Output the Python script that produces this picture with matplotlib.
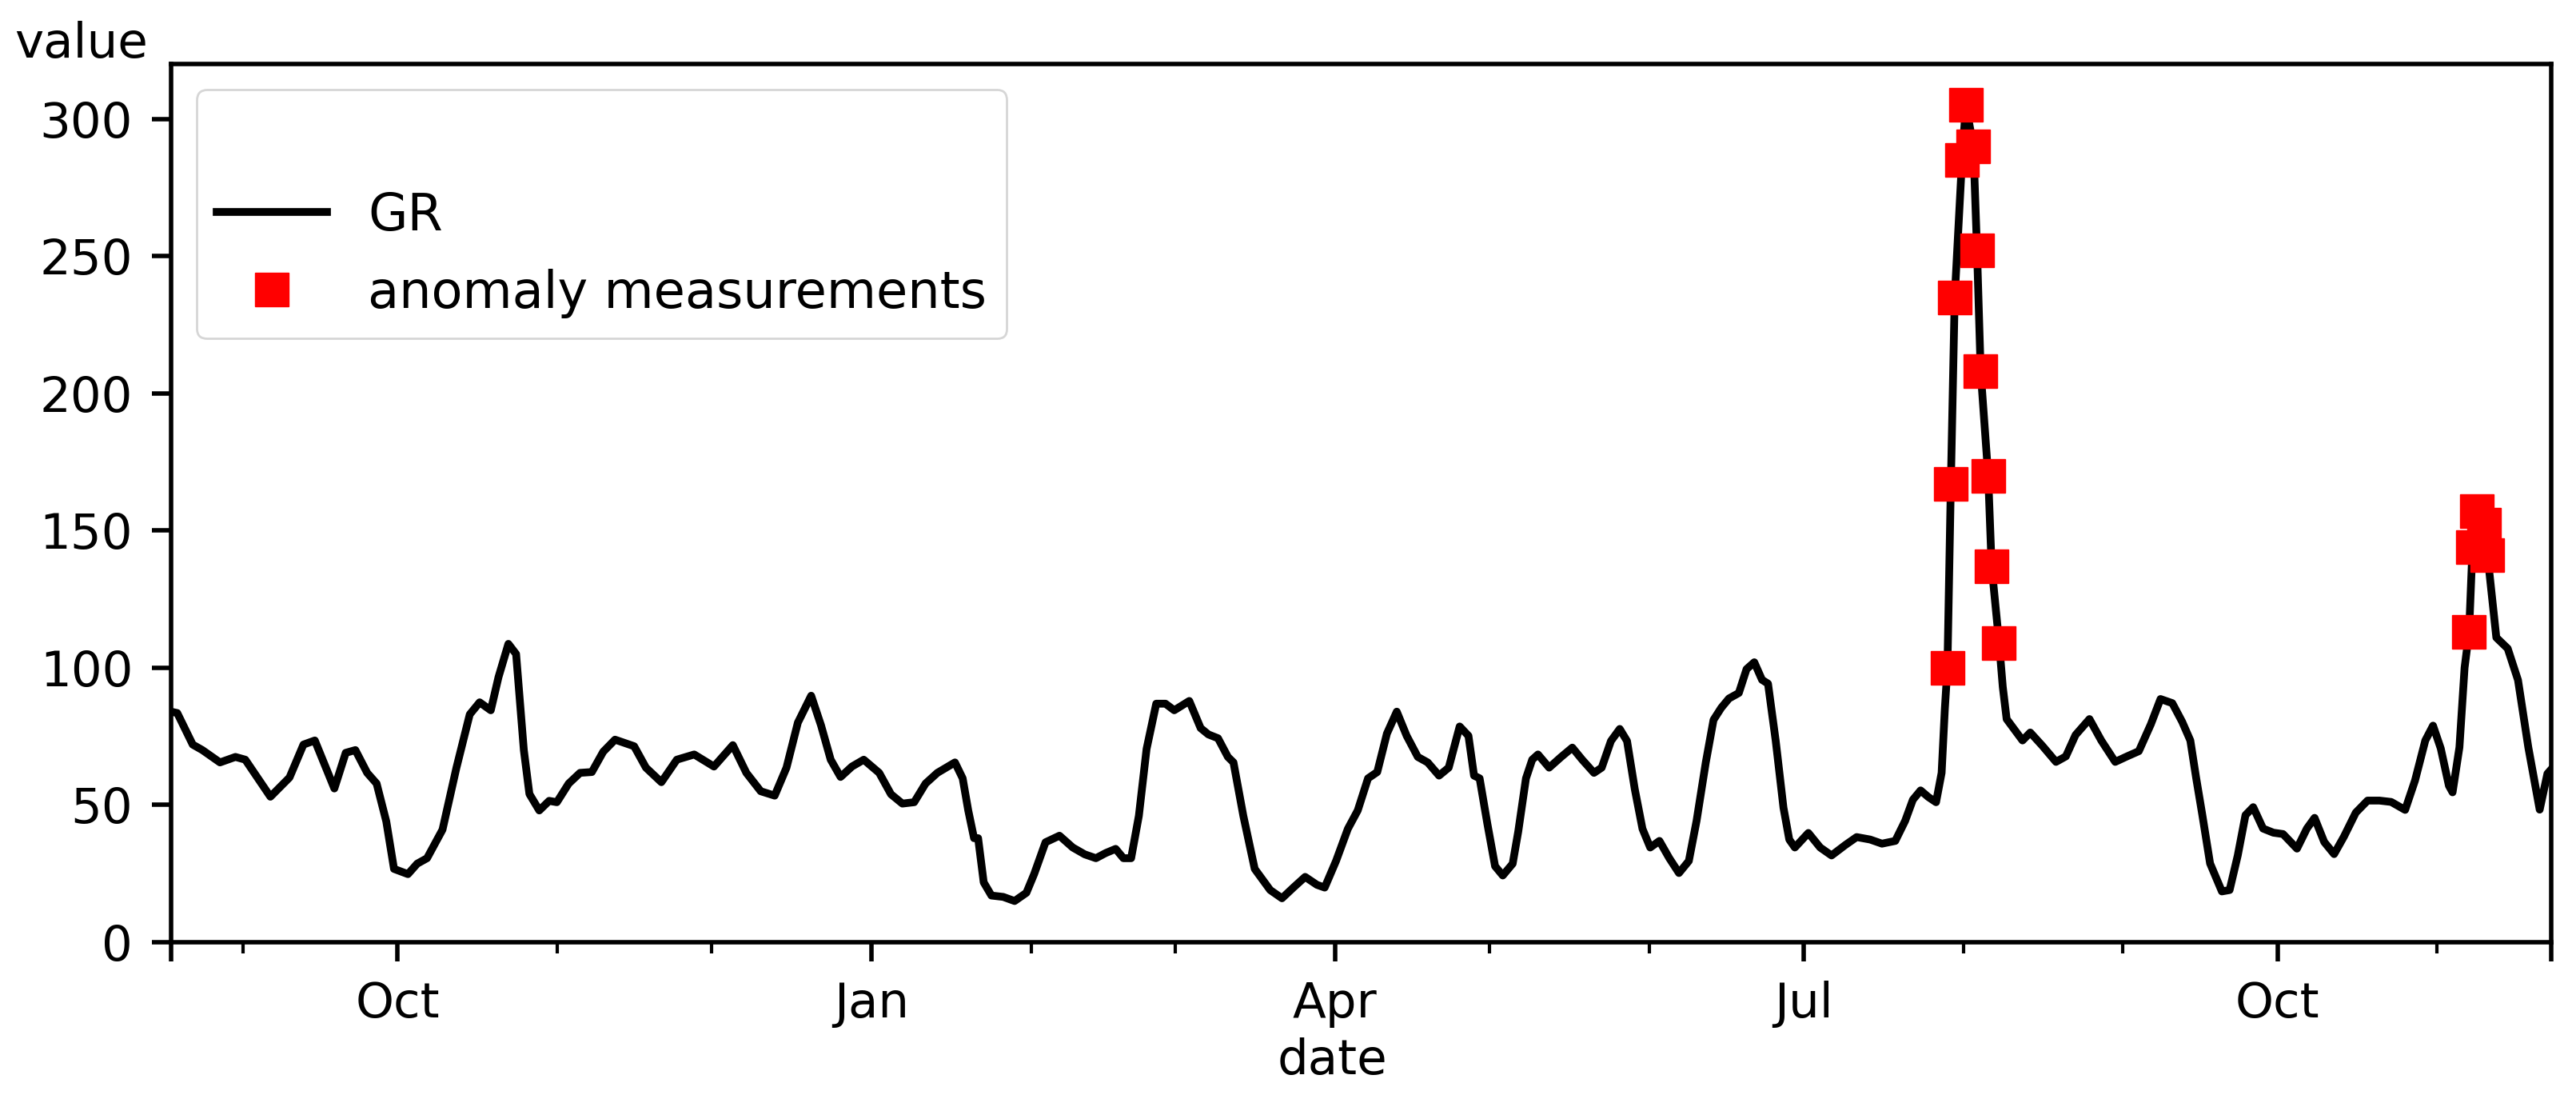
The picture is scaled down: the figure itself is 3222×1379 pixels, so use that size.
import matplotlib
matplotlib.use("Agg")
import matplotlib.pyplot as plt
import matplotlib.dates as mdates
from matplotlib.ticker import FixedLocator, FixedFormatter
import pandas as pd

# ---------------- data ----------------
gr_dates = [
    "2018-08-18 00:00", "2018-08-19 05:00", "2018-08-22 05:00", "2018-08-24 02:00",
    "2018-08-27 12:00", "2018-08-30 12:00", "2018-09-01 10:00", "2018-09-06 07:00",
    "2018-09-10 00:00", "2018-09-12 17:00", "2018-09-14 22:00", "2018-09-18 17:00",
    "2018-09-20 22:00", "2018-09-22 19:00", "2018-09-25 02:00", "2018-09-26 22:00",
    "2018-09-28 19:00", "2018-09-30 07:00", "2018-10-03 00:00", "2018-10-04 19:00",
    "2018-10-06 17:00", "2018-10-09 17:00", "2018-10-12 10:00", "2018-10-15 00:00",
    "2018-10-16 22:00", "2018-10-19 02:00", "2018-10-20 14:00", "2018-10-22 12:00",
    "2018-10-24 00:00", "2018-10-25 12:00", "2018-10-26 14:00", "2018-10-28 12:00",
    "2018-10-30 10:00", "2018-10-31 22:00", "2018-11-03 05:00", "2018-11-05 10:00",
    "2018-11-07 17:00", "2018-11-09 22:00", "2018-11-12 05:00", "2018-11-15 22:00",
    "2018-11-18 05:00", "2018-11-21 05:00", "2018-11-24 05:00", "2018-11-27 14:00",
    "2018-12-01 10:00", "2018-12-05 02:00", "2018-12-07 17:00", "2018-12-10 12:00",
    "2018-12-13 05:00", "2018-12-15 12:00", "2018-12-17 17:00", "2018-12-20 07:00",
    "2018-12-22 05:00", "2018-12-24 02:00", "2018-12-26 00:00", "2018-12-28 05:00",
    "2018-12-30 12:00", "2019-01-02 12:00", "2019-01-04 19:00", "2019-01-07 00:00",
    "2019-01-09 07:00", "2019-01-11 12:00", "2019-01-13 19:00", "2019-01-17 05:00",
    "2019-01-18 17:00", "2019-01-19 19:00", "2019-01-20 22:00", "2019-01-21 17:00",
    "2019-01-22 19:00", "2019-01-24 07:00", "2019-01-26 14:00", "2019-01-28 19:00",
    "2019-01-31 02:00", "2019-02-01 14:00", "2019-02-03 19:00", "2019-02-06 12:00",
    "2019-02-09 02:00", "2019-02-11 10:00", "2019-02-13 14:00", "2019-02-15 12:00",
    "2019-02-17 10:00", "2019-02-18 22:00", "2019-02-20 10:00", "2019-02-21 22:00",
    "2019-02-23 10:00", "2019-02-25 07:00", "2019-02-27 02:00", "2019-02-28 19:00",
    "2019-03-03 17:00", "2019-03-05 22:00", "2019-03-07 10:00", "2019-03-09 07:00",
    "2019-03-11 05:00", "2019-03-12 07:00", "2019-03-14 05:00", "2019-03-16 10:00",
    "2019-03-19 10:00", "2019-03-21 17:00", "2019-03-23 22:00", "2019-03-26 05:00",
    "2019-03-28 12:00", "2019-03-30 00:00", "2019-04-01 05:00", "2019-04-03 12:00",
    "2019-04-05 10:00", "2019-04-07 10:00", "2019-04-09 05:00", "2019-04-11 02:00",
    "2019-04-13 00:00", "2019-04-14 22:00", "2019-04-17 02:00", "2019-04-19 00:00",
    "2019-04-21 05:00", "2019-04-23 02:00", "2019-04-25 05:00", "2019-04-26 22:00",
    "2019-04-28 00:00", "2019-04-29 02:00", "2019-04-30 14:00", "2019-05-02 02:00",
    "2019-05-03 14:00", "2019-05-05 12:00", "2019-05-06 14:00", "2019-05-08 02:00",
    "2019-05-09 07:00", "2019-05-10 10:00", "2019-05-12 14:00", "2019-05-14 22:00",
    "2019-05-17 02:00", "2019-05-19 00:00", "2019-05-21 07:00", "2019-05-22 19:00",
    "2019-05-24 14:00", "2019-05-26 07:00", "2019-05-27 17:00", "2019-05-29 05:00",
    "2019-05-30 17:00", "2019-06-01 05:00", "2019-06-03 00:00", "2019-06-04 22:00",
    "2019-06-06 19:00", "2019-06-08 17:00", "2019-06-10 05:00", "2019-06-12 00:00",
    "2019-06-13 12:00", "2019-06-15 00:00", "2019-06-16 12:00", "2019-06-18 10:00",
    "2019-06-19 22:00", "2019-06-21 10:00", "2019-06-22 22:00", "2019-06-24 02:00",
    "2019-06-25 14:00", "2019-06-27 02:00", "2019-06-28 05:00", "2019-06-29 07:00",
    "2019-07-01 22:00", "2019-07-04 05:00", "2019-07-06 10:00", "2019-07-09 02:00",
    "2019-07-11 07:00", "2019-07-13 22:00", "2019-07-16 05:00", "2019-07-18 19:00",
    "2019-07-20 17:00", "2019-07-22 05:00", "2019-07-23 17:00", "2019-07-25 05:00",
    "2019-07-26 17:00", "2019-07-27 19:00", "2019-07-28 10:00",
    "2019-07-28 22:00", "2019-07-29 14:00", "2019-07-30 08:00", "2019-07-31 18:00",
    "2019-08-01 12:00", "2019-08-02 23:00", "2019-08-03 16:00", "2019-08-04 09:00",
    "2019-08-05 20:00", "2019-08-06 12:00", "2019-08-07 23:00",
    "2019-08-08 16:00", "2019-08-09 10:00", "2019-08-10 23:00", "2019-08-12 12:00",
    "2019-08-14 00:00", "2019-08-16 08:00", "2019-08-19 00:00", "2019-08-20 22:00",
    "2019-08-22 19:00", "2019-08-25 12:00", "2019-08-27 19:00", "2019-08-30 12:00",
    "2019-09-01 19:00", "2019-09-04 02:00", "2019-09-06 10:00", "2019-09-08 07:00",
    "2019-09-10 14:00", "2019-09-12 12:00", "2019-09-14 02:00", "2019-09-15 05:00",
    "2019-09-16 10:00", "2019-09-17 22:00", "2019-09-20 05:00", "2019-09-21 17:00",
    "2019-09-23 07:00", "2019-09-24 19:00", "2019-09-26 07:00", "2019-09-28 05:00",
    "2019-09-30 05:00", "2019-10-02 02:00", "2019-10-04 19:00", "2019-10-06 17:00",
    "2019-10-08 05:00", "2019-10-10 02:00", "2019-10-12 00:00", "2019-10-13 22:00",
    "2019-10-16 05:00", "2019-10-18 12:00", "2019-10-20 19:00", "2019-10-23 02:00",
    "2019-10-25 19:00", "2019-10-27 17:00", "2019-10-29 17:00", "2019-10-31 05:00",
    "2019-11-01 17:00", "2019-11-03 07:00", "2019-11-04 00:00", "2019-11-05 08:00",
    "2019-11-06 08:00",
    "2019-11-07 05:00", "2019-11-07 21:00", "2019-11-08 16:00", "2019-11-10 02:00",
    "2019-11-10 19:00",
    "2019-11-12 12:00", "2019-11-14 17:00", "2019-11-16 17:00", "2019-11-18 17:00",
    "2019-11-20 22:00", "2019-11-22 10:00", "2019-11-23 04:00",
]
gr_values = [
    84, 83.5, 72, 70, 65.5, 67.5, 66.5, 53, 60, 72, 73.5, 56, 69, 70, 61.7, 57.8,
    44, 26.7, 24.8, 28.6, 30.6, 41, 63.6, 83, 87.4, 84.5, 96.6, 108.7, 105, 70, 54, 48,
    51.5, 51, 57.8, 61.7, 62, 69.4, 73.8, 71.4, 63.6, 58.3, 66.5, 68.4,
    64, 71.8, 61.7, 55, 53.4, 63.6, 80, 89.8, 79, 66.5, 60.2, 64,
    66.5, 61.7, 53.9, 50.5, 51, 57.8, 61.7, 65.5, 59.7, 48, 37.9, 37.9,
    21.8, 17, 16.5, 15, 18, 24.8, 36.4, 38.8, 34.5, 32, 30.6, 32.5,
    34, 30.6, 30.6, 46, 70.4, 86.9, 86.9, 84.5, 87.9, 78, 75.7, 74.3,
    67.5, 65.5, 46, 26.7, 19, 16, 19.9, 23.8, 20.9, 19.9, 29.6, 41.3,
    48, 59.7, 62, 76, 84, 75.2, 67.5, 65.5, 60.7, 63.6, 78.6, 75.2,
    60.7, 59.7, 43.2, 27.7, 24.3, 28.6, 40.3, 59.7, 66.5, 68.4, 63.6, 67.5,
    70.9, 66.5, 61.7, 63.6, 73.3, 77.7, 73.3, 55.8, 41.3, 34.5, 36.9, 30.6,
    25.2, 29.6, 44.2, 65.5, 81, 85.4, 88.8, 90.8, 99.5, 102, 95.6, 94.2,
    73.3, 49, 37.4, 34.5, 39.8, 34.5, 31.6, 35.4, 38.3, 37.4, 35.9, 36.9,
    44.2, 51.9, 55.3, 52.9, 51, 61.7, 85,
    100, 167, 235, 285, 305, 290, 252, 208, 170, 137, 109,
    93, 81.3, 77.4, 73.5, 76.4, 71.6, 65.7, 67.7, 75.5, 81.3, 73.5, 65.7,
    67.7, 69.6, 79.4, 88.6, 87.1, 80.3, 73.5, 59.9, 46.3, 28.7, 18.5, 19,
    31.6, 46.3, 49.2, 41.4, 39.9, 39.4, 34.1, 41.4, 45.3, 36.5, 32.1, 38.5,
    47.2, 51.6, 51.6, 51.1, 48.2, 58.9, 73.5, 78.9, 70.6, 57, 54.6, 71,
    100,
    113, 144, 157, 152, 141,
    111, 107, 95.5, 71, 48.3, 61.4, 63,
]

anomaly_dates = [
    "2019-07-28 22:00", "2019-07-29 14:00", "2019-07-30 08:00", "2019-07-31 18:00",
    "2019-08-01 12:00", "2019-08-02 23:00", "2019-08-03 16:00", "2019-08-04 09:00",
    "2019-08-05 20:00", "2019-08-06 12:00", "2019-08-07 23:00",
    "2019-11-07 05:00", "2019-11-07 21:00", "2019-11-08 16:00", "2019-11-10 02:00",
    "2019-11-10 19:00",
]
anomaly_values = [100, 167, 235, 285, 305, 290, 252, 208, 170, 137, 109,
                  113, 144, 157, 152, 141]

series_labels = ["GR", "anomaly measurements"]
x_label = "date"
y_label = "value"
y_ticks = [0, 50, 100, 150, 200, 250, 300]

# ---------------- drawing ----------------
plt.rcParams['font.family'] = ['DejaVu Sans']
plt.rcParams['font.size'] = 22

fig = plt.figure(figsize=(16.11, 6.895), dpi=200)
ax = fig.add_axes([0.0664, 0.1458, 0.9240, 0.7962])

t = pd.to_datetime(gr_dates)
ta = pd.to_datetime(anomaly_dates)

ax.plot(t, gr_values, color='black', lw=3.5, label=series_labels[0], zorder=2)
ax.plot(ta, anomaly_values, ls='none', marker='s', ms=14.8, color='red',
        mec='red', mew=0.5, label=series_labels[1], zorder=3)

ax.set_xlim(t[0], t[-1])
ax.set_ylim(0, 320)
ax.set_yticks(y_ticks)

quarters = pd.date_range(t[0].normalize(), t[-1], freq='QS')
major = [t[0]] + list(quarters) + [t[-1]]
major_labels = [''] + [d.strftime('%b') for d in quarters] + ['']
ax.xaxis.set_major_locator(FixedLocator(mdates.date2num(major)))
ax.xaxis.set_major_formatter(FixedFormatter(major_labels))
ax.xaxis.set_minor_locator(mdates.MonthLocator())
ax.xaxis.set_minor_formatter(FixedFormatter([]))

for s in ax.spines.values():
    s.set_linewidth(2.0)
ax.tick_params(which='major', length=8.6, width=2.0, pad=8.6, labelsize=22)
ax.tick_params(which='minor', length=4.9, width=1.5)

ax.set_xlabel(x_label, fontsize=22)
ax.xaxis.set_label_coords(0.488, -0.108)
fig.text(18 / 3222, 1 - 72 / 1379, y_label, fontsize=22, ha='left', va='baseline')

leg = ax.legend(loc='upper left', title=' ', fontsize=23, handlelength=2.15,
                borderaxespad=0.5, title_fontsize=24, labelspacing=0.55)

fig.savefig('out.png', dpi=200)
